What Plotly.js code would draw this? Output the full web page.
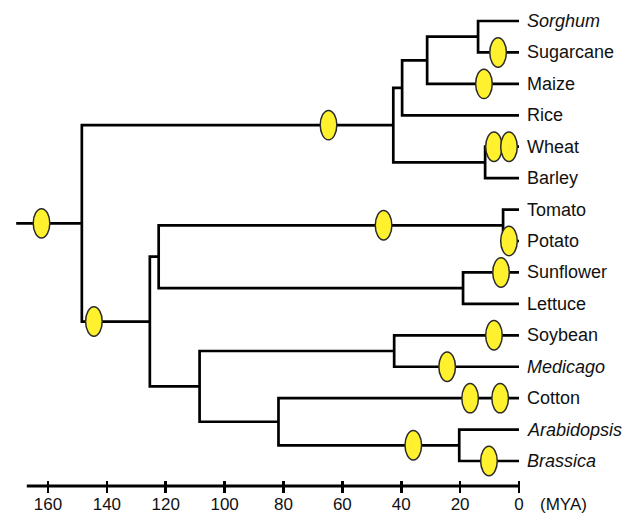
<!DOCTYPE html>
<html><head><meta charset="utf-8">
<script src="https://cdn.plot.ly/plotly-3.0.1.min.js"></script>
<style>html,body{margin:0;padding:0;background:#fff}</style>
</head><body><div id="chart" style="width:636px;height:514px"></div>
<script>
// ---- data ----
var leafNames = ['Sorghum','Sugarcane','Maize','Rice','Wheat','Barley','Tomato','Potato','Sunflower','Lettuce','Soybean','Medicago','Cotton','Arabidopsis','Brassica'];
var leafItalic = [true,false,false,false,false,false,false,false,false,false,false,true,false,true,true];
var nodeNames  = ['SorSug','Andropogoneae','Panicoid','WheBar','Poaceae','Solanaceae','Asteraceae','Asterids','Fabaceae','Brassicaceae','Malvids','Rosids','Eudicots','Angiosperms'];
var nodeAges   = [13.9, 31.2, 39.7, 11.5, 42.7, 5.4, 19.0, 122.4, 42.4, 20.3, 81.7, 108.5, 125.4, 148.5];
var nodeChild1 = ['Sorghum','SorSug','Andropogoneae','Wheat','Panicoid','Tomato','Sunflower','Solanaceae','Soybean','Arabidopsis','Cotton','Fabaceae','Asterids','Poaceae'];
var nodeChild2 = ['Sugarcane','Maize','Rice','Barley','WheBar','Potato','Lettuce','Asteraceae','Medicago','Brassica','Brassicaceae','Malvids','Rosids','Eudicots'];
var rootStemAge = 170.8;
var wgdBranch = ['Angiosperms','Eudicots','Poaceae','Sugarcane','Maize','Wheat','Wheat','Solanaceae','Potato','Sunflower','Soybean','Medicago','Cotton','Cotton','Brassicaceae','Brassica'];
var wgdAge    = [162.2, 144.4, 64.7, 7.1, 11.9, 8.5, 3.4, 46.0, 3.4, 6.1, 8.5, 24.4, 16.6, 6.4, 35.9, 10.2];
var tickVals  = [160,140,120,100,80,60,40,20,0];
var tickText  = ['160','140','120','100','80','60','40','20','0'];
var axisUnit  = '(MYA)';
var axisStart = 167.2;

// ---- build tree geometry ----
var pos = {};
leafNames.forEach(function(n,i){ pos[n] = {age:0, y:i}; });
var lx = [], ly = [];
nodeNames.forEach(function(n,i){
  var a = pos[nodeChild1[i]], b = pos[nodeChild2[i]];
  var age = nodeAges[i];
  pos[n] = {age:age, y:(a.y+b.y)/2};
  lx.push(a.age, age, age, b.age, null);
  ly.push(a.y, a.y, b.y, b.y, null);
});
var root = pos[nodeNames[nodeNames.length-1]];
lx.push(root.age, rootStemAge, null);
ly.push(root.y, root.y, null);

var FONT = 'Liberation Sans, Arial, Helvetica, sans-serif';
var traces = [{
  x: lx, y: ly, mode:'lines', type:'scatter',
  line:{color:'#000', width:2.7, shape:'linear'},
  hoverinfo:'skip', showlegend:false
}];

var hw = 8.3/2.94375, hh = 14.7/31.43;
var shapes = wgdAge.map(function(age,i){
  var y = pos[wgdBranch[i]].y;
  return {type:'circle', xref:'x', yref:'y', x0:age-hw, x1:age+hw, y0:y-hh, y1:y+hh,
          fillcolor:'#FFF12E', line:{color:'#2a2a2a', width:1.5}, layer:'above'};
});
shapes.push({type:'line', xref:'x', yref:'paper', x0:axisStart, x1:0, y0:-6/480, y1:-6/480,
             line:{color:'#000', width:2.8}});

var annotations = leafNames.map(function(n,i){
  return {x:0, y:i, xref:'x', yref:'y', xanchor:'left', yanchor:'middle', xshift:6,
          text: leafItalic[i] ? '<i>'+n+'</i>' : n, showarrow:false,
          font:{family:FONT, size:18, color:'#111'}};
});
annotations.push({x:0, y:0, xref:'x', yref:'paper', xanchor:'left', yanchor:'middle',
  xshift:19, yshift:-24, text:axisUnit, showarrow:false, font:{family:FONT, size:17, color:'#111'}});

var layout = {
  width:636, height:514,
  margin:{l:0, r:0, t:0, b:34, pad:0},
  paper_bgcolor:'#fff', plot_bgcolor:'#fff',
  showlegend:false,
  xaxis:{range:[176.3,-39.75], tickvals:tickVals, ticktext:tickText, ticks:'outside',
         ticklen:12, tickwidth:2.7, tickcolor:'#000', showline:false, zeroline:false,
         showgrid:false, fixedrange:true, ticklabelstandoff:-3,
         tickfont:{family:FONT, size:17, color:'#111'}},
  yaxis:{range:[14.604,-0.668], visible:false, showgrid:false, zeroline:false, fixedrange:true},
  shapes:shapes, annotations:annotations
};
Plotly.newPlot('chart', traces, layout, {staticPlot:true, displayModeBar:false});
</script></body></html>
